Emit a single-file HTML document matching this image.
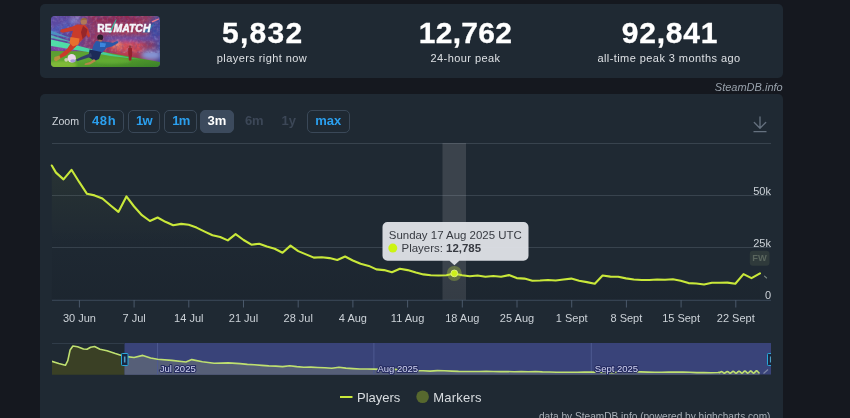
<!DOCTYPE html>
<html lang="en">
<head>
<meta charset="utf-8">
<title>REMATCH - Steam Charts - SteamDB</title>
<style>
*{box-sizing:border-box;margin:0;padding:0}
html,body{width:850px;height:418px;overflow:hidden;background:#15181f;font-family:"Liberation Sans",Arial,sans-serif;color:#fff}
.panel{position:absolute;left:40px;width:743px;background:#1f2933;border-radius:5px}
#stats{top:4px;height:74px}
#chartbox{top:94px;height:340px}
.thumb{position:absolute;left:11.4px;top:12px;width:109px;height:51px;border-radius:4px;overflow:hidden}
.thumb svg{display:block}
.stat{position:absolute;top:0;width:204px;text-align:center}
.stat b{position:absolute;left:0;right:0;top:11.6px;font-size:30px;line-height:34px;font-weight:700;color:#fff;-webkit-text-stroke:.3px #fff;letter-spacing:.9px;white-space:nowrap}
.stat span{position:absolute;left:0;right:0;top:46.3px;font-size:11px;letter-spacing:.43px;line-height:16px;color:#dde0e4;white-space:nowrap}
.credit{position:absolute;right:67.3px;top:79.5px;font-size:11px;line-height:14px;font-style:italic;color:#98a1ab}
.zoom{position:absolute;left:12px;top:16.2px;height:23px;display:flex;align-items:center;font-size:11px;color:#cfd4da}
.zoom .lbl{width:31.8px;font-size:10.6px;position:relative;top:-1.1px}
.zoom a{display:block;height:22.5px;line-height:20.5px;border:1px solid #3a4858;border-radius:5px;color:#2b9fee;font-weight:700;font-size:13px;text-align:center;margin-right:4px;text-decoration:none}
.zoom a.on{background:#3c4a5d;border-color:#3c4a5d;color:#fff}
.zoom a.off{border-color:transparent;color:#3c4757}
svg text{font-family:"Liberation Sans",Arial,sans-serif}
#chart{position:absolute;left:0;top:0}
</style>
</head>
<body>
<div class="panel" id="stats">
  <div class="thumb"><svg width="109" height="51" viewBox="0 0 109 51">
<defs>
<linearGradient id="tb" x1="0" y1="0" x2="1" y2="0"><stop offset="0" stop-color="#54469a"/><stop offset=".2" stop-color="#5e4498"/><stop offset=".4" stop-color="#933863"/><stop offset=".7" stop-color="#a83850"/><stop offset=".92" stop-color="#8a3c64"/><stop offset="1" stop-color="#3f4a9c"/></linearGradient>
<linearGradient id="tg" x1="0" y1="0" x2="1" y2="1"><stop offset="0" stop-color="#5c9c30"/><stop offset=".45" stop-color="#5ca630"/><stop offset="1" stop-color="#3a8028"/></linearGradient>
<linearGradient id="ts" x1="0" y1="0" x2="1" y2="0"><stop offset="0" stop-color="#52e0a8"/><stop offset=".55" stop-color="#48cfa0"/><stop offset="1" stop-color="#3cc46a"/></linearGradient>
<filter id="b1" x="-20%" y="-20%" width="140%" height="140%"><feGaussianBlur stdDeviation="1.1"/></filter>
<filter id="b2" x="-30%" y="-30%" width="160%" height="160%"><feGaussianBlur stdDeviation="2.2"/></filter>
<filter id="b0" x="-20%" y="-20%" width="140%" height="140%"><feGaussianBlur stdDeviation=".45"/></filter>
<filter id="nz" x="0" y="0" width="100%" height="100%"><feTurbulence type="fractalNoise" baseFrequency=".32" numOctaves="2" seed="7" result="n"/><feColorMatrix in="n" type="matrix" values="0 0 0 0 .85  0 0 0 0 .8  0 0 0 0 1  1.6 1.6 0 0 -1.45"/><feGaussianBlur stdDeviation=".6"/></filter>
<filter id="nz2" x="0" y="0" width="100%" height="100%"><feTurbulence type="fractalNoise" baseFrequency=".3" numOctaves="2" seed="21" result="n"/><feColorMatrix in="n" type="matrix" values="0 0 0 0 .12  0 0 0 0 .05  0 0 0 0 .25  0 1.6 1.6 0 -1.4"/><feGaussianBlur stdDeviation=".6"/></filter>
</defs>
<rect width="109" height="51" fill="url(#tb)"/>
<g filter="url(#b2)">
<ellipse cx="6" cy="6" rx="12" ry="9" fill="#5c4ca4"/>
<path d="M0 14L26 2L34 2L0 20Z" fill="#4860c0"/>
<ellipse cx="24" cy="4" rx="5" ry="3" fill="#9090d0"/>
<ellipse cx="66" cy="3" rx="26" ry="5" fill="#8c2c54"/>
<ellipse cx="76" cy="31" rx="17" ry="6.500" fill="#d04852"/>
<ellipse cx="66" cy="29" rx="5" ry="3" fill="#f08868"/>
<path d="M52 20H109V25H52Z" fill="#5a50b0"/>
<ellipse cx="100" cy="39" rx="10" ry="5" fill="#8494d4"/>
<ellipse cx="104" cy="13" rx="6" ry="10" fill="#3c4aa0"/>
<ellipse cx="14" cy="32" rx="16" ry="3" fill="#9444a0"/>
</g>
<rect width="109" height="37" filter="url(#nz)" opacity=".22"/><rect width="109" height="37" filter="url(#nz2)" opacity=".5"/>
<!-- grass -->
<path d="M0 35L50 35.500L109 46V51H0Z" fill="url(#tg)" filter="url(#b0)"/>
<ellipse cx="10" cy="49" rx="16" ry="4" fill="#8fc23a" opacity=".7" filter="url(#b1)"/>
<ellipse cx="62" cy="45" rx="18" ry="3" fill="#70b838" opacity=".5" filter="url(#b1)"/>
<!-- teal streaks -->
<g filter="url(#b0)">
<path d="M0 23.500L20 28L36 32L62 38.500L90 43.500L60 40L34 35.500L0 30Z" fill="url(#ts)"/>
<path d="M0 14.500L22 23L0 18Z" fill="#4aa0c8" opacity=".8"/>
<path d="M0 19L24 27L0 22Z" fill="#52d0b8" opacity=".75"/>
</g>
<!-- small background player -->
<g filter="url(#b0)"><path d="M77.300 32L80.800 32L81.300 37L80.200 44.500L78 44.500L77.200 37Z" fill="#94202e"/><circle cx="79" cy="30.800" r="1.300" fill="#8a3a38"/></g>
<!-- red player -->
<g filter="url(#b0)">
<path d="M26 8.500L34 8.800L37 12.500L39.200 20L37.500 21.500L33.500 16L32 23L27 28L24.500 31L15 39.500L9 42.500L7.500 40L16 33L20 27L20.500 20L22 14.800L11.500 16.800L9 15.500L10 13.500L21 10.800Z" fill="#c93a2c"/>
<path d="M32 10L36.500 13.500L35 20L31.500 23L30 16Z" fill="#96262c"/>
<path d="M19.500 21L28.500 22.500L27.500 28.500L22 30.500L18.500 27Z" fill="#e8702e"/>
<circle cx="32.800" cy="5.600" r="3.200" fill="#b07858"/>
<path d="M29.600 4.500C30.300 1.200 35.200 1 36.400 4.200C34.500 3.400 32 3.500 29.600 4.500Z" fill="#96683e"/>
<path d="M3.500 41L8.500 39.500L9.500 42.500L5 45.500L3 44Z" fill="#b8903e"/>
</g>
<!-- ball -->
<circle cx="20.700" cy="42.300" r="4.200" fill="#ead6ea" filter="url(#b0)"/>
<ellipse cx="22" cy="44.800" rx="2.800" ry="1.600" fill="#a898dc" filter="url(#b0)"/>
<circle cx="15.200" cy="43.800" r="1.900" fill="#e4d6c8" opacity=".85" filter="url(#b0)"/>
<!-- blue player -->
<g filter="url(#b0)">
<path d="M45 25L53 25.500L62 26.800L66.500 24.800L67.200 26.800L61 30.500L55.500 31.800L51.500 36.500L46 38.500L40.500 36L42.500 29Z" fill="#2a58a8"/>
<path d="M49 26.500L55 27.500L54 31L49 31Z" fill="#3a86e0"/>
<path d="M38.500 33.500L50.500 36L48 43L43.500 45L37.500 41Z" fill="#1d2a58"/>
<path d="M40 37L30 41L25 43.500L26 45.200L33 43L41 40.500Z" fill="#33406a"/>
<path d="M43 43L39 46L34 47.500L33.500 49L39 48.500L45 45Z" fill="#b8864a"/>
<circle cx="49.200" cy="21.600" r="3" fill="#2a1c2c"/>
<path d="M47.500 23.500L51 24L50.500 25.800L47.500 25.300Z" fill="#a8705a"/>
</g>
<!-- logo -->
<path d="M91 16.500L104 6.500L98 16.500Z" fill="#2a78b0" opacity=".8" filter="url(#b0)"/>
<path d="M100.500 5.200L107.800 2.200L108 3.600L101.500 6.500Z" fill="#e8788c" filter="url(#b0)"/>
<path d="M57.800 17L64.800 3.600L65.700 3.600L59.600 17Z" fill="#2fc4a4"/>
<g font-family="Liberation Sans, Arial, sans-serif" font-weight="700" fill="#f4f6fb" stroke="#f4f6fb" stroke-width=".55" stroke-linejoin="round">
<text x="46.300" y="15.500" font-size="11.800" textLength="14.300" lengthAdjust="spacingAndGlyphs">RE</text>
<text x="62.600" y="15.500" font-size="11.800" font-style="italic" textLength="36.800" lengthAdjust="spacingAndGlyphs">MATCH</text>
</g>
</svg>
</div>
  <div class="stat" style="left:120px"><b style="letter-spacing:1.3px;text-indent:1.6px">5,832</b><span>players right now</span></div>
  <div class="stat" style="left:323.5px"><b style="letter-spacing:.25px">12,762</b><span>24-hour peak</span></div>
  <div class="stat" style="left:527px"><b style="letter-spacing:.8px;text-indent:2px">92,841</b><span>all-time peak 3 months ago</span></div>
</div>
<div class="credit">SteamDB.info</div>
<div class="panel" id="chartbox">
  <div class="zoom"><span class="lbl">Zoom</span><a style="width:40px;letter-spacing:.6px;text-indent:.6px">48h</a><a style="width:32.5px;letter-spacing:-.6px">1w</a><a style="width:33px;letter-spacing:-.9px">1m</a><a class="on" style="width:33.5px;margin-left:-1px;letter-spacing:.2px">3m</a><a class="off" style="width:33px">6m</a><a class="off" style="width:28px">1y</a><a style="width:43px;margin-left:0">max</a></div>
</div>
<svg id="chart" width="850" height="418" viewBox="0 0 850 418">
  <defs>
    <linearGradient id="ag" gradientUnits="userSpaceOnUse" x1="0" y1="150" x2="0" y2="300"><stop offset="0" stop-color="#c9e83a" stop-opacity=".065"/><stop offset=".62" stop-color="#c9e83a" stop-opacity="0"/></linearGradient><linearGradient id="ad" gradientUnits="userSpaceOnUse" x1="0" y1="225" x2="0" y2="300"><stop offset="0" stop-color="#0c121a" stop-opacity="0"/><stop offset="1" stop-color="#0c121a" stop-opacity=".14"/></linearGradient>
    <clipPath id="navclip"><rect x="52" y="343" width="719" height="31.7"/></clipPath><clipPath id="navL"><rect x="52" y="343" width="72.5" height="32"/></clipPath><clipPath id="navR"><rect x="124.5" y="343" width="647" height="32"/></clipPath>
  </defs>
  <!-- download icon -->
  <g stroke="#65717f" stroke-width="1.3" fill="none" stroke-linecap="round" stroke-linejoin="round"><path d="M760 117V128M754.3 122.5L760 128.2L765.7 122.5M754 131.7H766"/></g>
  <!-- grid -->
  <g stroke="#38434e" stroke-width="1"><path d="M52 143.5H771M52 195.5H771M52 247.5H771"/></g>
  <!-- crosshair -->
  <rect x="442.5" y="143" width="23.5" height="157" fill="#fff" fill-opacity=".125"/>
  <!-- series -->
  <path d="M51.8 165.5 L56 172.6 L63.5 179.4 L71.5 169.8 L79.3 182.2 L87 193.8 L94.6 195.4 L102.4 198.5 L110.6 205.5 L118.4 211.9 L126.4 196.4 L134.1 206.5 L141.9 215.2 L149.9 221 L157.6 217.5 L165.4 221.8 L173.2 225.3 L181.2 223.9 L188.7 224.8 L196.5 227.6 L204.7 231.6 L212.5 235.2 L220.2 237 L227.8 240.4 L235.6 234.1 L243.6 240 L251.4 244.7 L259.2 243.8 L266.9 246.6 L274.7 248.7 L282.5 252.7 L290.5 245.6 L298.2 251.1 L306 254.4 L313.8 257.6 L321.8 257.2 L329.5 258.1 L337.3 260 L345.1 256.5 L352.8 260.5 L360.6 263.8 L368.8 265.9 L376.4 269.4 L384.1 270.1 L391.9 272.2 L399.9 268.7 L407.6 270.1 L415.9 272.5 L423.4 274.4 L430.75 275.2 L438.6 275.5 L446.4 275.3 L454.2 273.4 L462 275.3 L469.8 276.2 L477.6 275.5 L485.4 276.7 L493.3 276 L501.1 276.7 L508.9 275.1 L516.7 278.1 L524.5 278.6 L532.3 280.7 L540.1 280.5 L547.9 280 L555.7 280.5 L563.5 279.5 L571.3 278.6 L579.1 280.7 L586.9 282.1 L594.8 283.8 L602.6 275.5 L610.4 276.6 L618.2 276.8 L626 278.4 L633.8 279.5 L641.6 280 L649.4 280 L657.2 279.5 L665 279.8 L672.9 279.3 L680.7 280.7 L688.5 283.1 L696.3 283.5 L704.1 284.5 L711.9 282.8 L719.7 282.8 L727.5 282.6 L735.3 283.8 L743.5 274.1 L751.5 278.1 L760 273.4 L760 299.6 L51.8 299.6 Z" fill="url(#ag)"/><path d="M51.8 165.5 L56 172.6 L63.5 179.4 L71.5 169.8 L79.3 182.2 L87 193.8 L94.6 195.4 L102.4 198.5 L110.6 205.5 L118.4 211.9 L126.4 196.4 L134.1 206.5 L141.9 215.2 L149.9 221 L157.6 217.5 L165.4 221.8 L173.2 225.3 L181.2 223.9 L188.7 224.8 L196.5 227.6 L204.7 231.6 L212.5 235.2 L220.2 237 L227.8 240.4 L235.6 234.1 L243.6 240 L251.4 244.7 L259.2 243.8 L266.9 246.6 L274.7 248.7 L282.5 252.7 L290.5 245.6 L298.2 251.1 L306 254.4 L313.8 257.6 L321.8 257.2 L329.5 258.1 L337.3 260 L345.1 256.5 L352.8 260.5 L360.6 263.8 L368.8 265.9 L376.4 269.4 L384.1 270.1 L391.9 272.2 L399.9 268.7 L407.6 270.1 L415.9 272.5 L423.4 274.4 L430.75 275.2 L438.6 275.5 L446.4 275.3 L454.2 273.4 L462 275.3 L469.8 276.2 L477.6 275.5 L485.4 276.7 L493.3 276 L501.1 276.7 L508.9 275.1 L516.7 278.1 L524.5 278.6 L532.3 280.7 L540.1 280.5 L547.9 280 L555.7 280.5 L563.5 279.5 L571.3 278.6 L579.1 280.7 L586.9 282.1 L594.8 283.8 L602.6 275.5 L610.4 276.6 L618.2 276.8 L626 278.4 L633.8 279.5 L641.6 280 L649.4 280 L657.2 279.5 L665 279.8 L672.9 279.3 L680.7 280.7 L688.5 283.1 L696.3 283.5 L704.1 284.5 L711.9 282.8 L719.7 282.8 L727.5 282.6 L735.3 283.8 L743.5 274.1 L751.5 278.1 L760 273.4 L760 299.6 L51.8 299.6 Z" fill="url(#ad)"/>
  <path d="M51.8 165.5 L56 172.6 L63.5 179.4 L71.5 169.8 L79.3 182.2 L87 193.8 L94.6 195.4 L102.4 198.5 L110.6 205.5 L118.4 211.9 L126.4 196.4 L134.1 206.5 L141.9 215.2 L149.9 221 L157.6 217.5 L165.4 221.8 L173.2 225.3 L181.2 223.9 L188.7 224.8 L196.5 227.6 L204.7 231.6 L212.5 235.2 L220.2 237 L227.8 240.4 L235.6 234.1 L243.6 240 L251.4 244.7 L259.2 243.8 L266.9 246.6 L274.7 248.7 L282.5 252.7 L290.5 245.6 L298.2 251.1 L306 254.4 L313.8 257.6 L321.8 257.2 L329.5 258.1 L337.3 260 L345.1 256.5 L352.8 260.5 L360.6 263.8 L368.8 265.9 L376.4 269.4 L384.1 270.1 L391.9 272.2 L399.9 268.7 L407.6 270.1 L415.9 272.5 L423.4 274.4 L430.75 275.2 L438.6 275.5 L446.4 275.3 L454.2 273.4 L462 275.3 L469.8 276.2 L477.6 275.5 L485.4 276.7 L493.3 276 L501.1 276.7 L508.9 275.1 L516.7 278.1 L524.5 278.6 L532.3 280.7 L540.1 280.5 L547.9 280 L555.7 280.5 L563.5 279.5 L571.3 278.6 L579.1 280.7 L586.9 282.1 L594.8 283.8 L602.6 275.5 L610.4 276.6 L618.2 276.8 L626 278.4 L633.8 279.5 L641.6 280 L649.4 280 L657.2 279.5 L665 279.8 L672.9 279.3 L680.7 280.7 L688.5 283.1 L696.3 283.5 L704.1 284.5 L711.9 282.8 L719.7 282.8 L727.5 282.6 L735.3 283.8 L743.5 274.1 L751.5 278.1 L760 273.4" fill="none" stroke="#c9e83a" stroke-width="2.1" stroke-linejoin="round" stroke-linecap="round"/>
  <!-- axis -->
  <path d="M52 300.3H771" stroke="#3b4959" stroke-width="1"/><g stroke="#4a596b" stroke-width="1"><path d="M79.4 300 V307.5"/><path d="M134.1 300 V307.5"/><path d="M188.8 300 V307.5"/><path d="M243.5 300 V307.5"/><path d="M298.2 300 V307.5"/><path d="M352.9 300 V307.5"/><path d="M407.6 300 V307.5"/><path d="M462.3 300 V307.5"/><path d="M517.0 300 V307.5"/><path d="M571.7 300 V307.5"/><path d="M626.4 300 V307.5"/><path d="M681.1 300 V307.5"/><path d="M735.8 300 V307.5"/></g>
  <g font-size="11" fill="#ccd2d8" text-anchor="middle"><text x="79.4" y="322">30 Jun</text><text x="134.1" y="322">7 Jul</text><text x="188.8" y="322">14 Jul</text><text x="243.5" y="322">21 Jul</text><text x="298.2" y="322">28 Jul</text><text x="352.9" y="322">4 Aug</text><text x="407.6" y="322">11 Aug</text><text x="462.3" y="322">18 Aug</text><text x="517.0" y="322">25 Aug</text><text x="571.7" y="322">1 Sept</text><text x="626.4" y="322">8 Sept</text><text x="681.1" y="322">15 Sept</text><text x="735.8" y="322">22 Sept</text></g>
  <g font-size="11" fill="#ccd2d8" text-anchor="end"><text x="771" y="194.7">50k</text><text x="771" y="246.8">25k</text><text x="771" y="298.9">0</text></g>
  <!-- FW flag -->
  <rect x="749.8" y="250.8" width="19.7" height="15" rx="3.2" fill="#2f3a3b"/>
  <text x="759.6" y="261" font-size="9.3" font-weight="700" fill="#5a665e" text-anchor="middle">FW</text>
  <path d="M764.5 276.2L766.6 278" stroke="#7d8a86" stroke-width="1.1" stroke-linecap="round"/>
  <!-- marker -->
  <circle cx="454.3" cy="273.4" r="7.5" fill="#c9e83a" fill-opacity=".3"/>
  <circle cx="454.3" cy="273.4" r="3.4" fill="#cdf01a" stroke="#e3f68c" stroke-width=".8"/>
  <!-- tooltip -->
  <path d="M387.5 222H523.5a5 5 0 0 1 5 5V255.7a5 5 0 0 1 -5 5H459.3L454.4 265.2L449.5 260.7H387.5a5 5 0 0 1 -5 -5V227a5 5 0 0 1 5 -5Z" fill="#dde0e5" fill-opacity=".965"/>
  <text x="388.8" y="239" font-size="11.45" fill="#373a41">Sunday 17 Aug 2025 UTC</text>
  <circle cx="392.8" cy="248.1" r="4.5" fill="#ccf412"/>
  <text x="401.6" y="251.8" font-size="11.45" fill="#373a41">Players: <tspan font-weight="700">12,785</tspan></text>
  <!-- navigator -->
  <g clip-path="url(#navclip)">
    <rect x="124.5" y="343" width="646.5" height="31.7" fill="#394379"/>
    <path d="M52 343.5H124.5" stroke="#303c49" stroke-width="1"/>
    <path d="M51.8 361.3 L58.8 363.6 L65.4 365.3 L67.8 360.6 L70.1 350 L72.9 346 L77.6 346.7 L83.5 349 L87 349.3 L90.6 347.2 L94.6 346.5 L100 349.3 L107 350.7 L115.3 353.5 L124.7 356.4 L134.1 357.5 L142.8 355.4 L150.6 358 L157.6 359.2 L171.8 360.4 L185.9 362 L191.8 359.6 L202.4 361.8 L214.1 363.2 L228.2 362.9 L240 363.6 L247.4 364.4 L254.4 364.8 L261.8 365.4 L268.8 365.9 L275.7 366.1 L282.6 366.6 L289.6 365.7 L296.8 366.6 L303.8 367.2 L310.8 367.1 L317.7 367.5 L324.8 367.8 L331.8 368.3 L339 367.3 L345.9 368.1 L352.9 368.6 L359.9 369 L367.1 369 L374 369.1 L381 369.4 L388.1 368.9 L395 369.4 L402 369.9 L409.4 370.2 L416.2 370.7 L423.1 370.8 L430.1 371.1 L437.3 370.6 L444.3 370.8 L451.7 371.1 L458.5 371.4 L465.1 371.5 L472.1 371.5 L479.1 371.5 L486.2 371.2 L493.2 371.5 L500.2 371.6 L507.2 371.5 L514.2 371.7 L521.3 371.6 L528.3 371.7 L535.3 371.5 L542.4 371.9 L549.4 372 L556.4 372.3 L563.4 372.2 L570.4 372.2 L577.4 372.2 L584.4 372.1 L591.5 372 L598.5 372.3 L605.5 372.4 L612.6 372.7 L619.6 371.5 L626.6 371.7 L633.6 371.7 L640.6 371.9 L647.7 372.1 L654.7 372.2 L661.7 372.2 L668.7 372.1 L675.7 372.1 L682.8 372.1 L689.8 372.3 L696.8 372.6 L703.9 372.6 L710.9 372.8 L717.9 372.5 L719.4 372.4 L719.4 372.82 L720.38 372.06 L721.36 371.6 L722.34 371.93 L723.32 372.71 L724.3 373.15 L725.28 372.78 L726.26 371.93 L727.24 371.45 L728.22 371.83 L729.2 372.69 L730.18 373.16 L731.16 372.74 L732.14 371.81 L733.12 371.3 L734.1 371.73 L735.08 372.67 L736.06 373.17 L737.04 372.69 L738.02 371.68 L739 371.15 L739.98 371.63 L740.96 372.66 L741.94 373.18 L742.92 372.64 L743.9 371.55 L744.88 371 L745.86 371.54 L746.84 372.65 L747.82 373.18 L748.8 372.58 L749.78 371.42 L750.76 370.85 L751.74 371.46 L752.72 372.64 L753.7 373.19 L754.68 372.53 L755.66 371.28 L756.64 370.7 L757.62 371.37 L758.6 372.63 L759.58 373.2 L759.58 375 L51.8 375 Z" fill="#3a4025" clip-path="url(#navL)"/>
    <path d="M51.8 361.3 L58.8 363.6 L65.4 365.3 L67.8 360.6 L70.1 350 L72.9 346 L77.6 346.7 L83.5 349 L87 349.3 L90.6 347.2 L94.6 346.5 L100 349.3 L107 350.7 L115.3 353.5 L124.7 356.4 L134.1 357.5 L142.8 355.4 L150.6 358 L157.6 359.2 L171.8 360.4 L185.9 362 L191.8 359.6 L202.4 361.8 L214.1 363.2 L228.2 362.9 L240 363.6 L247.4 364.4 L254.4 364.8 L261.8 365.4 L268.8 365.9 L275.7 366.1 L282.6 366.6 L289.6 365.7 L296.8 366.6 L303.8 367.2 L310.8 367.1 L317.7 367.5 L324.8 367.8 L331.8 368.3 L339 367.3 L345.9 368.1 L352.9 368.6 L359.9 369 L367.1 369 L374 369.1 L381 369.4 L388.1 368.9 L395 369.4 L402 369.9 L409.4 370.2 L416.2 370.7 L423.1 370.8 L430.1 371.1 L437.3 370.6 L444.3 370.8 L451.7 371.1 L458.5 371.4 L465.1 371.5 L472.1 371.5 L479.1 371.5 L486.2 371.2 L493.2 371.5 L500.2 371.6 L507.2 371.5 L514.2 371.7 L521.3 371.6 L528.3 371.7 L535.3 371.5 L542.4 371.9 L549.4 372 L556.4 372.3 L563.4 372.2 L570.4 372.2 L577.4 372.2 L584.4 372.1 L591.5 372 L598.5 372.3 L605.5 372.4 L612.6 372.7 L619.6 371.5 L626.6 371.7 L633.6 371.7 L640.6 371.9 L647.7 372.1 L654.7 372.2 L661.7 372.2 L668.7 372.1 L675.7 372.1 L682.8 372.1 L689.8 372.3 L696.8 372.6 L703.9 372.6 L710.9 372.8 L717.9 372.5 L719.4 372.4 L719.4 372.82 L720.38 372.06 L721.36 371.6 L722.34 371.93 L723.32 372.71 L724.3 373.15 L725.28 372.78 L726.26 371.93 L727.24 371.45 L728.22 371.83 L729.2 372.69 L730.18 373.16 L731.16 372.74 L732.14 371.81 L733.12 371.3 L734.1 371.73 L735.08 372.67 L736.06 373.17 L737.04 372.69 L738.02 371.68 L739 371.15 L739.98 371.63 L740.96 372.66 L741.94 373.18 L742.92 372.64 L743.9 371.55 L744.88 371 L745.86 371.54 L746.84 372.65 L747.82 373.18 L748.8 372.58 L749.78 371.42 L750.76 370.85 L751.74 371.46 L752.72 372.64 L753.7 373.19 L754.68 372.53 L755.66 371.28 L756.64 370.7 L757.62 371.37 L758.6 372.63 L759.58 373.2 L759.58 375 L51.8 375 Z" fill="#565f78" clip-path="url(#navR)"/>
    <g stroke="#4e5a92" stroke-width="1"><path d="M157.6 343V374.5M373.9 343V374.5M591.3 343V374.5"/></g>
    <path d="M51.8 361.3 L58.8 363.6 L65.4 365.3 L67.8 360.6 L70.1 350 L72.9 346 L77.6 346.7 L83.5 349 L87 349.3 L90.6 347.2 L94.6 346.5 L100 349.3 L107 350.7 L115.3 353.5 L124.7 356.4 L134.1 357.5 L142.8 355.4 L150.6 358 L157.6 359.2 L171.8 360.4 L185.9 362 L191.8 359.6 L202.4 361.8 L214.1 363.2 L228.2 362.9 L240 363.6 L247.4 364.4 L254.4 364.8 L261.8 365.4 L268.8 365.9 L275.7 366.1 L282.6 366.6 L289.6 365.7 L296.8 366.6 L303.8 367.2 L310.8 367.1 L317.7 367.5 L324.8 367.8 L331.8 368.3 L339 367.3 L345.9 368.1 L352.9 368.6 L359.9 369 L367.1 369 L374 369.1 L381 369.4 L388.1 368.9 L395 369.4 L402 369.9 L409.4 370.2 L416.2 370.7 L423.1 370.8 L430.1 371.1 L437.3 370.6 L444.3 370.8 L451.7 371.1 L458.5 371.4 L465.1 371.5 L472.1 371.5 L479.1 371.5 L486.2 371.2 L493.2 371.5 L500.2 371.6 L507.2 371.5 L514.2 371.7 L521.3 371.6 L528.3 371.7 L535.3 371.5 L542.4 371.9 L549.4 372 L556.4 372.3 L563.4 372.2 L570.4 372.2 L577.4 372.2 L584.4 372.1 L591.5 372 L598.5 372.3 L605.5 372.4 L612.6 372.7 L619.6 371.5 L626.6 371.7 L633.6 371.7 L640.6 371.9 L647.7 372.1 L654.7 372.2 L661.7 372.2 L668.7 372.1 L675.7 372.1 L682.8 372.1 L689.8 372.3 L696.8 372.6 L703.9 372.6 L710.9 372.8 L717.9 372.5 L719.4 372.4 L719.4 372.82 L720.38 372.06 L721.36 371.6 L722.34 371.93 L723.32 372.71 L724.3 373.15 L725.28 372.78 L726.26 371.93 L727.24 371.45 L728.22 371.83 L729.2 372.69 L730.18 373.16 L731.16 372.74 L732.14 371.81 L733.12 371.3 L734.1 371.73 L735.08 372.67 L736.06 373.17 L737.04 372.69 L738.02 371.68 L739 371.15 L739.98 371.63 L740.96 372.66 L741.94 373.18 L742.92 372.64 L743.9 371.55 L744.88 371 L745.86 371.54 L746.84 372.65 L747.82 373.18 L748.8 372.58 L749.78 371.42 L750.76 370.85 L751.74 371.46 L752.72 372.64 L753.7 373.19 L754.68 372.53 L755.66 371.28 L756.64 370.7 L757.62 371.37 L758.6 372.63 L759.58 373.2" fill="none" stroke="#bfe070" stroke-width="1.6" stroke-linejoin="round"/>
    <path d="M763.5 373.5L768 369.5" stroke="#7d86a6" stroke-width="1.2"/>
    <g font-size="9.5" fill="#d3d6f3" stroke="#252b60" stroke-width="2.2" stroke-linejoin="round" paint-order="stroke"><text x="159.8" y="372">Jul 2025</text><text x="377.4" y="372">Aug 2025</text><text x="594.8" y="372">Sept 2025</text></g>
    <g fill="#1a2742" stroke="#29a8da" stroke-width="1"><rect x="121.5" y="353.5" width="6.5" height="12" rx=".8"/><rect x="767.5" y="353.5" width="6.5" height="12" rx=".8"/></g>
    <path d="M124.7 356.5V362.5M770.7 356.5V362.5" stroke="#4f9ec4" stroke-width="1.6"/>
  </g>
  <!-- legend -->
  <path d="M340 397H352.5" stroke="#c9e83a" stroke-width="2"/>
  <text x="357" y="402.2" font-size="13" fill="#d9dde1">Players</text>
  <circle cx="422.6" cy="396.8" r="6.3" fill="#57682e"/>
  <text x="433.3" y="402.2" font-size="13" fill="#d9dde1" letter-spacing=".2">Markers</text>
  <text x="770.5" y="419.9" font-size="10.12" fill="#a9b0b8" text-anchor="end">data by SteamDB.info (powered by highcharts.com)</text>
</svg>
</body>
</html>
